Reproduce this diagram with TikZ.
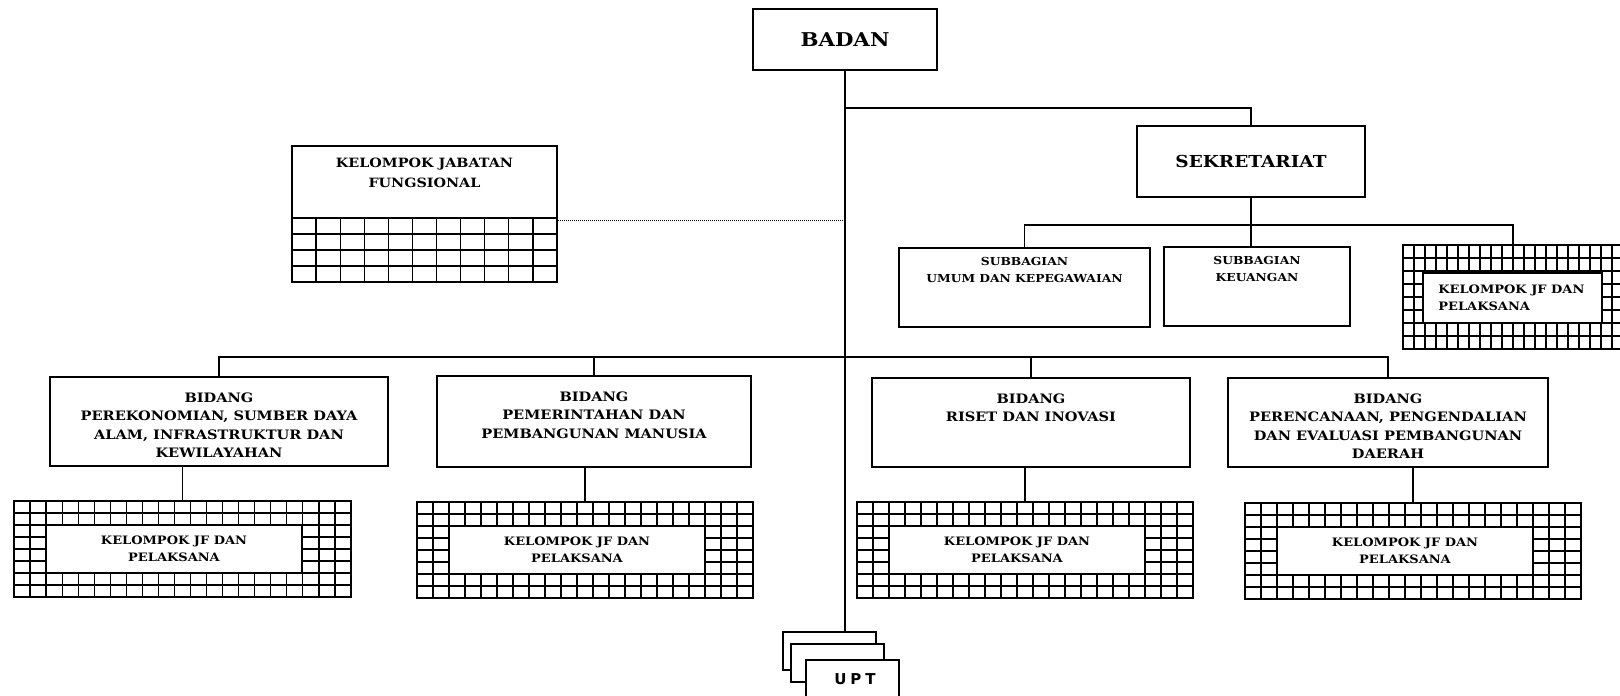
\documentclass[tikz,border=0pt]{standalone}
\usepackage{fontspec}
\setmainfont{DejaVu Serif}[FakeStretch=1.12]
\newfontfamily\uptfont{DejaVu Sans}
\usetikzlibrary{fit,calc}
\tikzset{
  box/.style={draw, line width=1.7pt, fill=white, inner sep=0pt},
  gbox/.style={draw, line width=2.2pt, inner sep=0pt},
  gline/.style={line width=1.2pt},
  conn/.style={line width=1.5pt},
  dotline/.style={line width=1pt, densely dotted},
  lblbig/.style={font=\bfseries\fontsize{19}{22}\selectfont, inner sep=0pt},
  lblsek/.style={font=\bfseries\fontsize{16.5}{18}\selectfont, inner sep=0pt},
  lbl/.style={font=\bfseries\fontsize{13}{18.5}\selectfont, align=center, inner sep=0pt},
  lblsub/.style={font=\bfseries\fontsize{11}{17}\selectfont, align=center, inner sep=0pt},
  lblsm/.style={font=\bfseries\fontsize{11.6}{16.5}\selectfont, align=center, inner sep=0pt},
  lblkjf/.style={font=\bfseries\fontsize{12.8}{20}\selectfont, align=center, inner sep=0pt},
  uptlbl/.style={font=\uptfont\bfseries\fontsize{15}{18}\selectfont, inner sep=0pt},
}
% #1 x1, #2 y1, #3 x2, #4 y2, #5 cols, #6 rows : inner grid lines
\newcommand\gridlinesin[6]{%
  \foreach \k in {1,...,\numexpr#5-1\relax}
    \draw[gline] ({#1+\k*(#3-#1)/#5},#2) -- ({#1+\k*(#3-#1)/#5},#4);
  \foreach \k in {1,...,\numexpr#6-1\relax}
    \draw[gline] (#1,{#2+\k*(#4-#2)/#6}) -- (#3,{#2+\k*(#4-#2)/#6});
}
\begin{document}
\begin{tikzpicture}[x=1pt,y=-1pt]
\useasboundingbox (0,0) rectangle (1620,696);
\clip (0,0) rectangle (1620,696);

% top
\node[box, fit={(753,9) (937,70)}] (badan) {};
\node[lblbig] at (badan.center) {BADAN};

\node[box, fit={(1137,126) (1365,197)}] (sek) {};
\node[lblsek] at (sek.center) {SEKRETARIAT};

% subbagian row
\node[box, fit={(899,248) (1150,327)}] (umum) {};
\node[lblsub, anchor=north] at ([yshift=-10pt]umum.north) {SUBBAGIAN\\UMUM DAN KEPEGAWAIAN};
\node[box, fit={(1164,247) (1350,326)}] (keu) {};
\node[lblsub, anchor=north] at ([yshift=-10pt]keu.north) {SUBBAGIAN\\KEUANGAN};

% kelompok JF (sekretariat)
\node[gbox, fit={(1403,245) (1623,349)}] (jf0) {};
\gridlinesin{1403}{245}{1623}{349}{20}{8}
\node[box, fit={(1423,273) (1602,323)}] (jf0in) {};
\node[lblsm, align=left, anchor=west] at ([xshift=16pt]jf0in.west) {KELOMPOK JF DAN\\PELAKSANA};

% kelompok jabatan fungsional
\node[gbox, fit={(292,146) (557,282)}] (kjf) {};
\gridlinesin{292}{218}{557}{282}{11}{4}
\draw[gbox] (292,218) -- (557,218);
\node[lblkjf, anchor=north] at ([yshift=-13pt]kjf.north) {KELOMPOK JABATAN\\FUNGSIONAL};

% bidang
\node[box, fit={(50,377) (388,466)}] (b1) {};
\node[lbl, anchor=north] at ([yshift=-16pt]b1.north) {BIDANG\\PEREKONOMIAN, SUMBER DAYA\\ALAM, INFRASTRUKTUR DAN\\KEWILAYAHAN};
\node[box, fit={(437,376) (751,467)}] (b2) {};
\node[lbl, anchor=north] at ([yshift=-16pt]b2.north) {BIDANG\\PEMERINTAHAN DAN\\PEMBANGUNAN MANUSIA};
\node[box, fit={(872,378) (1190,467)}] (b3) {};
\node[lbl, anchor=north] at ([yshift=-16pt]b3.north) {BIDANG\\RISET DAN INOVASI};
\node[box, fit={(1228,378) (1548,467)}] (b4) {};
\node[lbl, anchor=north] at ([yshift=-16pt]b4.north) {BIDANG\\PERENCANAAN, PENGENDALIAN\\DAN EVALUASI PEMBANGUNAN\\DAERAH};

% grid boxes under bidang
\node[gbox, fit={(14,501) (351,597)}] (g1) {};
\gridlinesin{14}{501}{351}{597}{21}{8}
\node[box, fit={(46,525) (302,573)}] (g1in) {};
\node[lblsm] at (g1in.center) {KELOMPOK JF DAN\\PELAKSANA};

\node[gbox, fit={(417,502) (753,598)}] (g2) {};
\gridlinesin{417}{502}{753}{598}{21}{8}
\node[box, fit={(449,526) (705,574)}] (g2in) {};
\node[lblsm] at (g2in.center) {KELOMPOK JF DAN\\PELAKSANA};

\node[gbox, fit={(857,502) (1193,598)}] (g3) {};
\gridlinesin{857}{502}{1193}{598}{21}{8}
\node[box, fit={(889,526) (1145,574)}] (g3in) {};
\node[lblsm] at (g3in.center) {KELOMPOK JF DAN\\PELAKSANA};

\node[gbox, fit={(1245,503) (1581,599)}] (g4) {};
\gridlinesin{1245}{503}{1581}{599}{21}{8}
\node[box, fit={(1277,527) (1533,575)}] (g4in) {};
\node[lblsm] at (g4in.center) {KELOMPOK JF DAN\\PELAKSANA};

% UPT stack
\node[box, fit={(783,632) (876,670)}] (u1) {};
\node[box, fit={(791,644) (884,682)}] (u2) {};
\node[box, fit={(806,660) (899,712)}] (u3) {};
\node[uptlbl] at (855,679) {U\hspace{4pt}P\hspace{4pt}T};

% connectors
\coordinate (hs) at (844,108);
\coordinate (hb) at (844,357);
\coordinate (hk) at (844,225);
\coordinate (kd) at (844,220);
\draw[conn] (badan.south) -- (badan.south |- u1.north);
\draw[conn] (badan.south |- hs) -| (sek.north);
\draw[conn] (sek.south) -- (sek.south |- keu.north);
\draw[conn] (umum.north) -- (umum.north |- hk) -| (jf0.north);
\draw[dotline] (kd -| kjf.east) -- (kd);
\draw[conn] (b1.north) -- (b1.north |- hb) -| (b4.north);
\draw[conn] (b2.north) -- (b2.north |- hb);
\draw[conn] (b3.north) -- (b3.north |- hb);
\draw[conn] (g1.north) -- (g1.north |- b1.south);
\draw[conn] (g2.north) -- (g2.north |- b2.south);
\draw[conn] (g3.north) -- (g3.north |- b3.south);
\draw[conn] (g4.north) -- (g4.north |- b4.south);
\end{tikzpicture}
\end{document}
